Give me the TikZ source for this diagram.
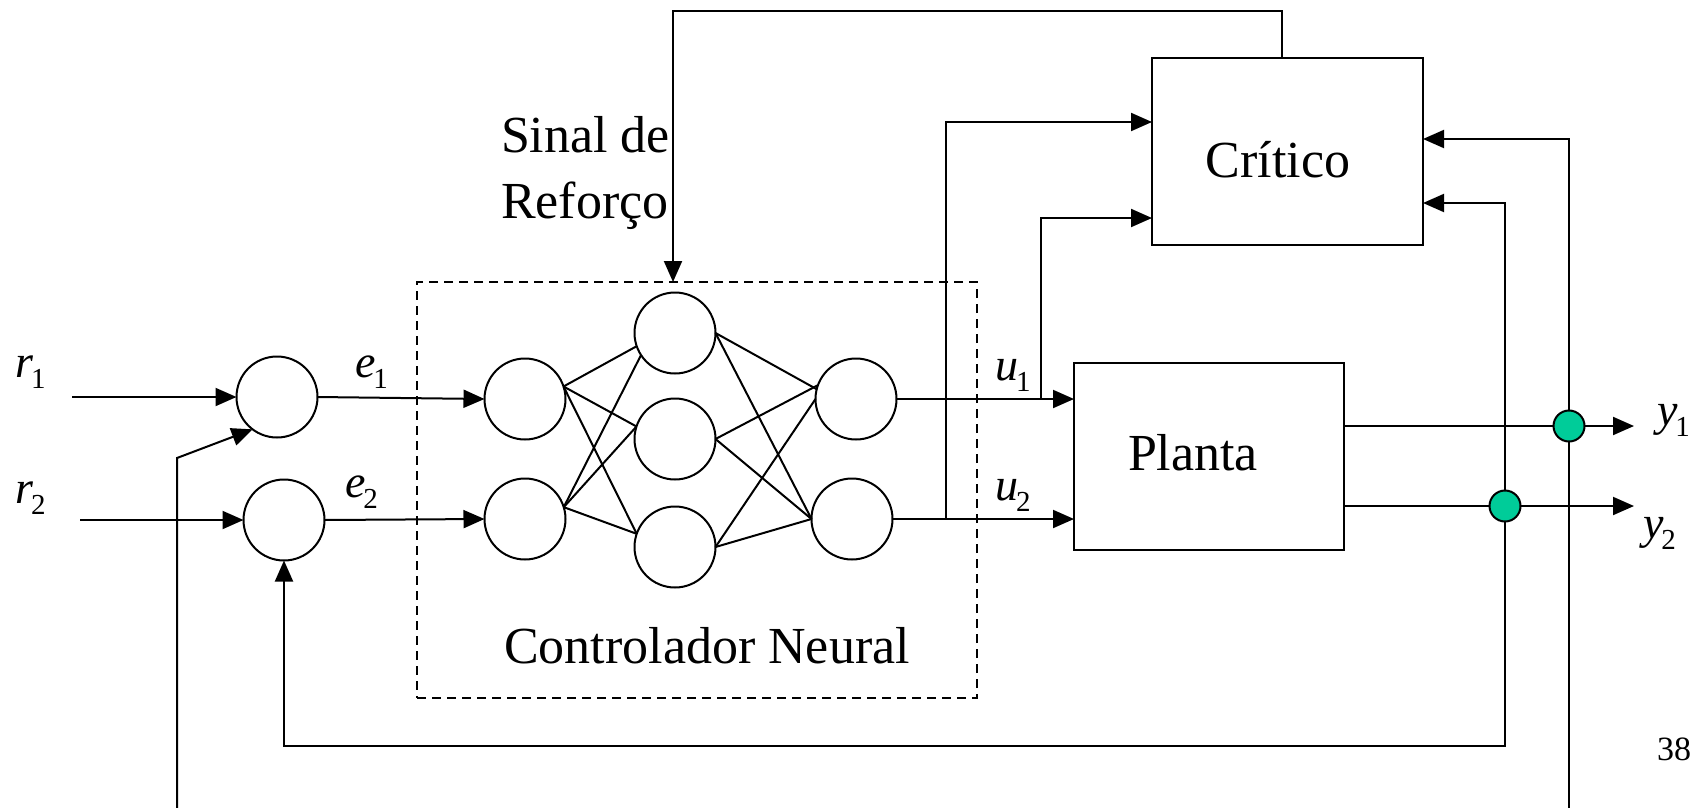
\documentclass[tikz,border=0pt]{standalone}
\usepackage{fontspec}
\setmainfont{Liberation Serif}
\usetikzlibrary{arrows.meta}
\definecolor{tapgreen}{RGB}{0,204,153}
% italic variable with an upright subscript
\newcommand\sublabel[2]{\textit{#1}\kern-2pt\lower11pt\hbox{\fontsize{29}{29}\selectfont #2}}

\begin{document}
\begin{tikzpicture}[x=1pt,y=-1pt,line width=2pt,
  every node/.style={inner sep=0pt,outer sep=0pt},
  neuron/.style={draw,circle,minimum size=81pt},
  sumnode/.style={draw,circle,minimum size=81pt},
  block/.style={draw,rectangle},
  netbox/.style={draw,rectangle,dash pattern=on 9pt off 6pt},
  big/.style={font=\fontsize{52}{60}\selectfont},
  lbl/.style={font=\fontsize{46}{50}\selectfont,anchor=base west},
  arr/.style={-{Triangle[length=21pt,width=18pt]}},
  tap/.style={draw,circle,fill=tapgreen,minimum size=31pt}]

\useasboundingbox (0,0) rectangle (1699,808);

% --- blocks ---
\node[netbox,minimum width=560pt,minimum height=416pt] (ctrl) at (697,490) {};
\node[block,minimum width=270pt,minimum height=187pt] (planta) at (1209,456.5) {};
\node[block,minimum width=271pt,minimum height=187pt] (critico) at (1287.5,151.5) {};
\node[big,anchor=base] (planta-txt) at (1193,470) {Planta};
\node[big,anchor=base] (critico-txt) at (1278,177) {Crítico};
\node[big,anchor=base] (ctrl-txt) at (707,663) {Controlador Neural};
\node[big,anchor=base west] (sinal1) at (501,152) {Sinal de};
\node[big,anchor=base west] (sinal2) at (501,218) {Reforço};

% --- summing junctions ---
\node[sumnode] (sum1) at (277,397) {};
\node[sumnode] (sum2) at (284,520) {};

% --- network neurons ---
\node[neuron] (in1) at (525,399) {};
\node[neuron] (in2) at (525,519) {};
\node[neuron] (h1) at (675,333) {};
\node[neuron] (h2) at (675,439) {};
\node[neuron] (h3) at (675,547) {};
\node[neuron] (o1) at (856,399) {};
\node[neuron] (o2) at (852,519) {};

% --- output taps ---
\node[tap] (tap1) at (1569,426) {};
\node[tap] (tap2) at (1505,506) {};

% --- labels ---
\node[lbl] (r1) at (15,377) {\sublabel{r}{1}};
\node[lbl] (r2) at (15,503) {\sublabel{r}{2}};
\node[lbl] (e1) at (355,377) {\sublabel{e}{1}};
\node[lbl] (e2) at (345,497) {\sublabel{e}{2}};
\node[lbl] (u1) at (995,380) {\sublabel{u}{1}};
\node[lbl] (u2) at (995,500) {\sublabel{u}{2}};
\node[lbl] (y1) at (1657,425) {\sublabel{y}{1}};
\node[lbl] (y2) at (1643,538) {\sublabel{y}{2}};
\node[anchor=base west,font=\fontsize{34}{40}\selectfont] (pagenum) at (1657,760) {38};

% --- helper points ---
\coordinate (r1in) at (72,397);
\coordinate (r2in) at (80,520);
\coordinate (fb1bot) at (177,808);
\coordinate (fb1knee) at (177,458);
\coordinate (fb2y) at (0,746);
\coordinate (bottom) at (0,808);
\coordinate (ctop) at (1282,11);
\coordinate (rtop) at (673,11);
\coordinate (u1b) at (1041,218);
\coordinate (u2b) at (946,122);
\coordinate (cr1) at (1569,139);
\coordinate (cr2) at (1505,203);
\coordinate (y1end) at (1634,426);
\coordinate (y2end) at (1634,506);

% --- references and errors ---
\draw[arr] (r1in) -- (sum1.west);
\draw[arr] (r2in) -- (sum2.west);
\draw[arr] (sum1.east) -- (in1.west);
\draw[arr] (sum2.east) -- (in2.west);
\draw[arr] (fb1bot) -- (fb1knee) -- (sum1.233);

% --- network weights ---
\foreach \s/\a in {in1/18,in2/17}{
  \draw (\s.\a) -- (h2.162);
  \draw (\s.\a) -- (h3.161);
}
\draw (in1.18) -- (h1.199);
\draw (in2.17) -- (h1.213);
\draw (h1.east) -- (o1.166);
\draw (h2.east) -- (o1.160);
\draw (h3.east) -- (o1.180);
\foreach \h in {h1,h2,h3}{\draw (\h.east) -- (o2.west);}

% --- control signals ---
\draw[arr] (o1.east) -- (o1.east -| planta.west);
\draw[arr] (o2.east) -- (o2.east -| planta.west);
\draw[arr] (u1b |- o1) -- (u1b) -- (u1b -| critico.west);
\draw[arr] (u2b |- o2) -- (u2b) -- (u2b -| critico.west);

% --- reinforcement signal ---
\draw[arr] (ctop |- critico.north) -- (ctop) -- (rtop) -- (rtop |- ctrl.north);

% --- plant outputs ---
\draw (planta.east |- tap1) -- (tap1.west);
\draw (planta.east |- tap2) -- (tap2.west);
\draw[arr] (tap1.east) -- (y1end);
\draw[arr] (tap2.east) -- (y2end);
\draw[arr] (tap1.north) -- (cr1) -- (cr1 -| critico.east);
\draw[arr] (tap2.north) -- (cr2) -- (cr2 -| critico.east);
\draw (tap1.south) -- (tap1 |- bottom);
\draw[arr] (tap2.south) -- (tap2 |- fb2y) -- (sum2.south |- fb2y) -- (sum2.south);
\end{tikzpicture}
\end{document}
